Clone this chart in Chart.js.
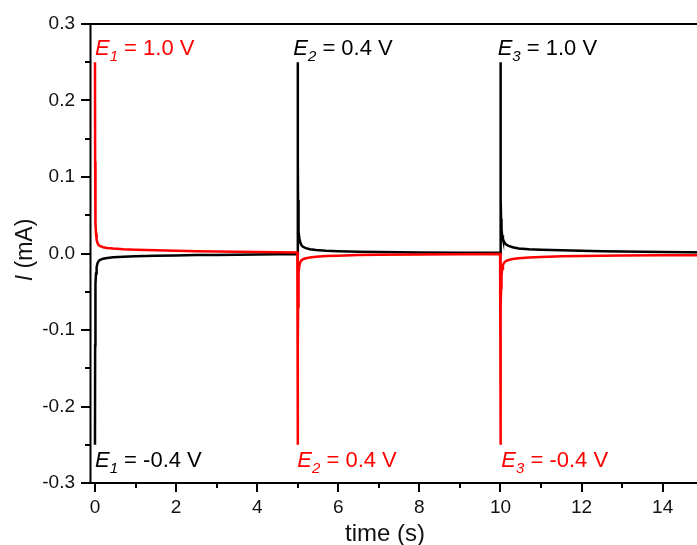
<!DOCTYPE html>
<html>
<head>
<meta charset="utf-8">
<script src="https://cdn.jsdelivr.net/npm/chart.js@4/dist/chart.umd.min.js"></script>
<style>
  html, body { margin: 0; padding: 0; background: #fff; overflow: hidden; }
  #chart { display: block; }
</style>
</head>
<body>
<canvas id="chart" width="730" height="545"></canvas>
<script>
// Data (time in s, current in mA)
const timeRed = [0, 0.004, 0.008, 0.015, 0.025, 0.04, 0.06, 0.09, 0.13, 0.2, 0.3, 0.45, 0.7, 1.0, 1.5, 2.0, 2.5, 3.0, 3.5, 4.0, 4.5, 4.99,
  5.0, 5.004, 5.008, 5.015, 5.025, 5.04, 5.06, 5.09, 5.13, 5.2, 5.3, 5.45, 5.7, 6.0, 6.5, 7.0, 8.0, 9.0, 9.99,
  10.0, 10.004, 10.008, 10.015, 10.025, 10.04, 10.06, 10.09, 10.13, 10.2, 10.3, 10.45, 10.7, 11.0, 11.5, 12.0, 12.5, 13.0, 14.0, 15.3];
const currentRed = [0.25, 0.12, 0.07, 0.04, 0.026, 0.018, 0.014, 0.011, 0.0095, 0.0082, 0.0072, 0.0064, 0.0056, 0.005, 0.0042, 0.0035, 0.003, 0.0026, 0.0022, 0.0019, 0.0016, 0.0014,
  -0.25, -0.12, -0.07, -0.04, -0.025, -0.016, -0.012, -0.009, -0.0075, -0.0062, -0.0052, -0.0043, -0.0034, -0.0028, -0.0021, -0.0017, -0.0012, -0.001, -0.0008,
  -0.25, -0.12, -0.07, -0.045, -0.03, -0.02, -0.015, -0.012, -0.01, -0.0085, -0.0072, -0.0062, -0.0052, -0.0045, -0.0037, -0.0032, -0.0028, -0.0026, -0.0023, -0.0022];

const timeBlack = [0, 0.004, 0.008, 0.015, 0.025, 0.04, 0.06, 0.09, 0.13, 0.2, 0.3, 0.45, 0.7, 1.0, 1.5, 2.0, 2.5, 3.0, 3.5, 4.0, 4.5, 4.99,
  5.0, 5.004, 5.008, 5.015, 5.025, 5.04, 5.06, 5.09, 5.13, 5.2, 5.3, 5.45, 5.7, 6.0, 6.5, 7.0, 8.0, 9.0, 9.99,
  10.0, 10.004, 10.008, 10.015, 10.025, 10.04, 10.06, 10.09, 10.13, 10.2, 10.3, 10.45, 10.7, 11.0, 11.5, 12.0, 12.5, 13.0, 14.0, 15.3];
const currentBlack = [-0.25, -0.12, -0.07, -0.04, -0.026, -0.018, -0.013, -0.01, -0.0082, -0.0068, -0.0058, -0.005, -0.0043, -0.0037, -0.003, -0.0025, -0.0021, -0.0018, -0.0015, -0.0013, -0.0011, -0.001,
  0.25, 0.12, 0.07, 0.042, 0.028, 0.02, 0.015, 0.011, 0.0088, 0.007, 0.0056, 0.0045, 0.0036, 0.003, 0.0023, 0.0018, 0.0014, 0.0011, 0.001,
  0.25, 0.12, 0.07, 0.045, 0.032, 0.024, 0.019, 0.015, 0.012, 0.01, 0.0082, 0.0066, 0.0056, 0.0049, 0.0041, 0.0035, 0.003, 0.0026, 0.0019, 0.0014];

// Axis ticks
const xMajorTicks = [0, 2, 4, 6, 8, 10, 12, 14];
const xMinorTicks = [1, 3, 5, 7, 9, 11, 13, 15];
const yMajorTicks = [-0.3, -0.2, -0.1, 0.0, 0.1, 0.2, 0.3];
const yMinorTicks = [-0.25, -0.15, -0.05, 0.05, 0.15, 0.25];

// Step potential labels: [subscript, rest of text]
const topLabels = [['1', ' = 1.0 V'], ['2', ' = 0.4 V'], ['3', ' = 1.0 V']];
const bottomLabels = [['1', ' = -0.4 V'], ['2', ' = 0.4 V'], ['3', ' = -0.4 V']];

const RED = '#ff0000';
const BLACK = '#000000';
const FONT = '"Liberation Sans", Arial, sans-serif';

function toPoints(xs, ys) {
  return xs.map((x, i) => ({ x: x, y: ys[i] }));
}

// draw "E_n = ..." with italic E and subscript
function drawStepLabel(ctx, x, y, sub, rest, color) {
  ctx.save();
  ctx.fillStyle = color;
  ctx.textAlign = 'left';
  ctx.textBaseline = 'alphabetic';
  ctx.font = 'italic 22px ' + FONT;
  ctx.fillText('E', x, y);
  x += ctx.measureText('E').width;
  ctx.font = 'italic 15px ' + FONT;
  ctx.fillText(sub, x, y + 6);
  x += ctx.measureText(sub).width;
  ctx.font = '22px ' + FONT;
  ctx.fillText(rest, x, y);
  ctx.restore();
}

const axesPlugin = {
  id: 'originAxes',
  afterDraw(chart) {
    const ctx = chart.ctx;
    const xs = chart.scales.x;
    const ys = chart.scales.y;
    const area = chart.chartArea;
    ctx.save();

    // frame: left, bottom, top
    ctx.strokeStyle = '#000';
    ctx.lineWidth = 2;
    ctx.beginPath();
    ctx.moveTo(area.left + 0.5, area.top);
    ctx.lineTo(area.left + 0.5, area.bottom);
    ctx.moveTo(area.left, area.bottom);
    ctx.lineTo(area.right, area.bottom);
    ctx.moveTo(area.left, area.top);
    ctx.lineTo(area.right, area.top);
    ctx.stroke();

    // x ticks
    ctx.beginPath();
    xMajorTicks.forEach(v => {
      const px = Math.round(xs.getPixelForValue(v));
      ctx.moveTo(px, area.bottom);
      ctx.lineTo(px, area.bottom + 9);
    });
    xMinorTicks.forEach(v => {
      const px = Math.round(xs.getPixelForValue(v));
      ctx.moveTo(px, area.bottom);
      ctx.lineTo(px, area.bottom + 5);
    });
    // y ticks
    yMajorTicks.forEach(v => {
      const py = Math.round(ys.getPixelForValue(v));
      ctx.moveTo(area.left, py);
      ctx.lineTo(area.left - 9, py);
    });
    yMinorTicks.forEach(v => {
      const py = Math.round(ys.getPixelForValue(v));
      ctx.moveTo(area.left, py);
      ctx.lineTo(area.left - 5, py);
    });
    ctx.stroke();

    // tick labels
    ctx.fillStyle = '#111';
    ctx.font = '19px ' + FONT;
    ctx.textAlign = 'center';
    ctx.textBaseline = 'middle';
    xMajorTicks.forEach(v => {
      ctx.fillText(String(v), xs.getPixelForValue(v), area.bottom + 25);
    });
    ctx.textAlign = 'right';
    yMajorTicks.forEach(v => {
      ctx.fillText(v.toFixed(1), area.left - 15, ys.getPixelForValue(v));
    });

    // axis titles
    ctx.font = '24px ' + FONT;
    ctx.textAlign = 'center';
    ctx.textBaseline = 'alphabetic';
    ctx.fillText('time (s)', 385, 541);

    ctx.save();
    ctx.translate(32, 250);
    ctx.rotate(-Math.PI / 2);
    ctx.textAlign = 'left';
    ctx.font = 'italic 23px ' + FONT;
    const wI = ctx.measureText('I').width;
    ctx.font = '23px ' + FONT;
    const wRest = ctx.measureText(' (mA)').width;
    let tx = -(wI + wRest) / 2;
    ctx.font = 'italic 23px ' + FONT;
    ctx.fillText('I', tx, 0);
    ctx.font = '23px ' + FONT;
    ctx.fillText(' (mA)', tx + wI, 0);
    ctx.restore();

    // step labels
    const topAt = [0.0, 4.89, 9.93];
    const botAt = [0.0, 4.99, 10.02];
    const topColors = [RED, BLACK, BLACK];
    const botColors = [BLACK, RED, RED];
    topLabels.forEach((l, i) => {
      drawStepLabel(ctx, xs.getPixelForValue(topAt[i]), ys.getPixelForValue(0.2595), l[0], l[1], topColors[i]);
    });
    bottomLabels.forEach((l, i) => {
      drawStepLabel(ctx, xs.getPixelForValue(botAt[i]), ys.getPixelForValue(-0.2795), l[0], l[1], botColors[i]);
    });

    ctx.restore();
  }
};

new Chart(document.getElementById('chart'), {
  type: 'line',
  data: {
    datasets: [
      {
        label: 'red',
        data: toPoints(timeRed, currentRed),
        borderColor: RED,
        borderWidth: 2.5,
        pointRadius: 0,
        tension: 0,
        order: 0
      },
      {
        label: 'black',
        data: toPoints(timeBlack, currentBlack),
        borderColor: BLACK,
        borderWidth: 2.5,
        pointRadius: 0,
        tension: 0,
        order: 1
      }
    ]
  },
  options: {
    responsive: false,
    animation: false,
    devicePixelRatio: 1,
    layout: { padding: { left: 90, top: 24, right: 15, bottom: 62 } },
    plugins: {
      legend: { display: false },
      tooltip: { enabled: false }
    },
    scales: {
      x: { type: 'linear', min: -0.123, max: 15.29, display: false },
      y: { type: 'linear', min: -0.3, max: 0.3, display: false }
    }
  },
  plugins: [axesPlugin]
});
</script>
</body>
</html>
